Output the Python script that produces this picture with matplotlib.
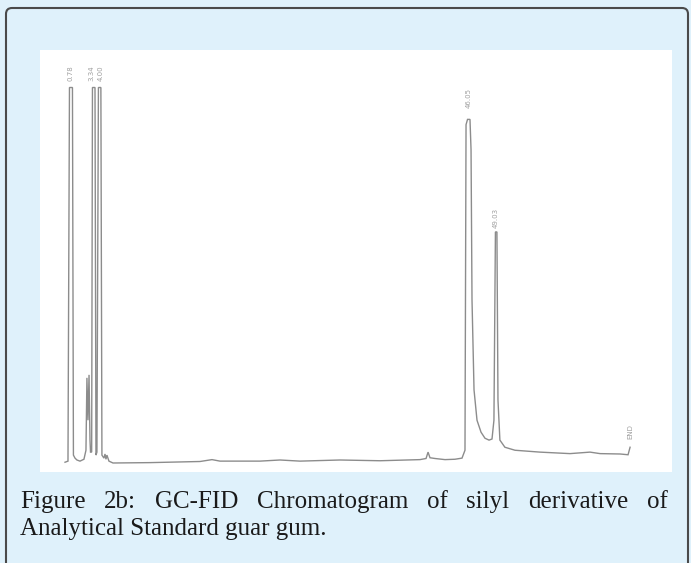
import matplotlib
matplotlib.use("Agg")
import matplotlib.pyplot as plt
from matplotlib.patches import FancyBboxPatch, Rectangle

# retention time (min) and detector signal (% of full scale)
time_min = [0.10, 0.44, 0.61, 0.95, 1.06, 1.24, 1.46, 1.81, 2.26, 2.49, 2.60, 2.72,
            2.84, 2.95, 3.01, 3.14, 3.23, 3.52, 3.63, 3.74, 3.91, 4.19, 4.31, 4.54,
            4.66, 4.77, 4.88, 5.11, 5.57, 9.79, 15.49, 16.86, 17.77, 22.33, 24.61,
            26.89, 31.45, 36.01, 40.57, 41.26, 41.49, 41.71, 42.28, 43.42, 44.56,
            45.36, 45.70, 45.82, 45.99, 46.27, 46.39, 46.50, 46.73, 47.07, 47.53,
            47.98, 48.44, 48.78, 49.00, 49.17, 49.34, 49.46, 49.68, 50.25, 51.40,
            54.25, 57.67, 59.95, 61.10, 63.38, 64.29, 64.52]
signal = [0.1, 0.4, 100, 100, 2.0, 1.2, 0.7, 0.4, 0.9, 3.3, 22.6, 11.3,
          23.4, 6.0, 2.8, 2.8, 100, 100, 2.0, 2.8, 100, 100, 2.0, 1.2,
          2.3, 0.9, 2.0, 0.4, -0.1, 0.0, 0.3, 0.8, 0.4, 0.4, 0.7,
          0.4, 0.7, 0.5, 0.8, 1.1, 2.8, 1.3, 1.1, 0.8, 0.9,
          1.2, 3.3, 90.1, 91.5, 91.5, 83.4, 43.4, 19.4, 11.3, 8.1,
          6.5, 6.0, 6.3, 11.3, 61.5, 61.5, 16.7, 6.0, 4.1, 3.3,
          2.8, 2.4, 2.8, 2.4, 2.3, 2.1, 4.1]

# printed peak labels (retention times) and where they sit
peak_labels = ["0.78", "3.34", "4.00", "46.05", "49.03", "END"]
peak_times = [0.78, 3.15, 4.15, 46.13, 49.25, 64.52]
peak_tops = [100, 100, 100, 91.5, 61.5, 4.1]
label_gap = [5, 5, 5, 8, 3, 6]

caption_1 = "Figure 2b: GC-FID Chromatogram of silyl derivative of"
caption_2 = "Analytical Standard guar gum."

W, H = 691, 563
fig = plt.figure(figsize=(W / 100, H / 100), dpi=100)
fig.patch.set_facecolor("#dff1fb")

bg = fig.add_axes([0, 0, 1, 1])
bg.set_xlim(0, W)
bg.set_ylim(H, 0)
bg.axis("off")
bg.add_patch(FancyBboxPatch((6, 8), 682, 580, boxstyle="round,pad=0,rounding_size=6",
                            facecolor="#dff1fb", edgecolor="#4a4a4a", lw=1.5))
bg.add_patch(Rectangle((40, 50), 632, 422, facecolor="white", edgecolor="none"))

# chromatogram panel
ax = fig.add_axes([40 / W, 1 - 472 / H, 632 / W, 422 / H])
ax.set_facecolor("white")
ax.plot(time_min, signal, color="#8c8c8c", lw=1.0, solid_joinstyle="miter")
for lab, t, top, gap in zip(peak_labels, peak_times, peak_tops, label_gap):
    ax.annotate(lab, (t, top), xytext=(0, gap), textcoords="offset points",
                rotation=90, ha="center", va="bottom", fontsize=5, color="#a0a0a0")
ax.set_xlim(-2.75, 69.3)
ax.set_ylim(-2.5, 110)
ax.axis("off")

# caption, first line justified across the box
fig.canvas.draw()
renderer = fig.canvas.get_renderer()
font = dict(family="Liberation Serif", fontsize=18, color="#1a1a1a")
words = caption_1.split()
x0, x1, y1 = 20, 668, 508
texts = [bg.text(0, y1, w, ha="left", va="baseline", **font) for w in words]
inv = bg.transData.inverted()
widths = []
for t in texts:
    bb = t.get_window_extent(renderer)
    p0 = inv.transform((bb.x0, bb.y0))
    p1 = inv.transform((bb.x1, bb.y0))
    widths.append(p1[0] - p0[0])
gap = (x1 - x0 - sum(widths)) / (len(words) - 1)
x = x0
for t, w in zip(texts, widths):
    t.set_x(x)
    x += w + gap
bg.text(x0, 535, caption_2, ha="left", va="baseline", **font)

fig.savefig("out.png", dpi=100, facecolor=fig.get_facecolor())
